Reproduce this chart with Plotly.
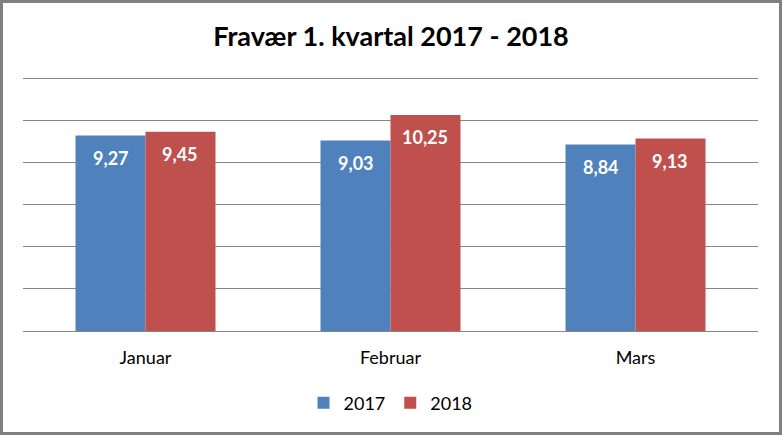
import plotly.graph_objects as go

months = ["Januar", "Februar", "Mars"]
series_names = ["2017", "2018"]
values_2017 = [9.27, 9.03, 8.84]
values_2018 = [9.45, 10.25, 9.13]
colors = ["#4F81BD", "#C0504D"]

W, H = 782, 435
ml, mr, mt, mb = 23, 24, 72, 104
px_per_unit = (435 - 78 - 104) / 12.0
y_top = 12 + (78 - mt) / px_per_unit
plot_w = W - ml - mr
cat_w = plot_w / len(months)
bargap = 0.4286
bar_w = cat_w * (1 - bargap) / 2

fig = go.Figure()
for name, vals, col in zip(series_names, [values_2017, values_2018], colors):
    fig.add_trace(go.Bar(
        x=months, y=vals, name=name, marker=dict(color=col, line=dict(width=0)),
    ))

for si, vals in enumerate([values_2017, values_2018]):
    shift = (si - 0.5) * bar_w
    for m, v in zip(months, vals):
        fig.add_annotation(x=m, y=v, xref="x", yref="y", text="<b>%s</b>" % f"{v:.2f}".replace(".", ","),
                           showarrow=False, xshift=shift, yanchor="middle", yshift=-22,
                           font=dict(family="Lato", size=18, color="white"))

fig.update_layout(
    width=W, height=H,
    margin=dict(l=ml, r=mr, t=mt, b=mb, autoexpand=False),
    paper_bgcolor="white", plot_bgcolor="white",
    separators=",.",
    barmode="group", bargap=bargap, bargroupgap=0,
    title=dict(text="<b>Fravær 1. kvartal 2017 - 2018</b>", x=0.5, xanchor="center",
               y=1 - 37 / H, yanchor="middle",
               font=dict(family="Lato", size=27, color="black")),
    xaxis=dict(showgrid=False, showline=True, linecolor="#868686", linewidth=1,
               ticks="", ticklabelstandoff=10,
               tickfont=dict(family="Lato", size=18, color="black"), automargin=False),
    yaxis=dict(range=[0, y_top], dtick=2, showgrid=True, gridcolor="#868686", gridwidth=1,
               showticklabels=False, zeroline=False, fixedrange=True, automargin=False),
    legend=dict(orientation="h", x=0.5, xanchor="center", yref="container", y=1 - 403 / H,
                yanchor="middle", font=dict(family="Lato", size=18, color="black"),
                itemwidth=30),
    showlegend=True,
)
fig.add_shape(type="rect", xref="paper", yref="paper",
              x0=-(ml - 1.5) / plot_w, x1=1 + (mr - 1.5) / plot_w,
              y0=-(mb - 1.5) / (H - mt - mb), y1=1 + (mt - 1.5) / (H - mt - mb),
              line=dict(color="#808080", width=3), layer="above")

fig.write_html("out.html", config={"displayModeBar": False},
               post_script="document.body.style.margin='0';document.body.style.overflow='hidden';")
